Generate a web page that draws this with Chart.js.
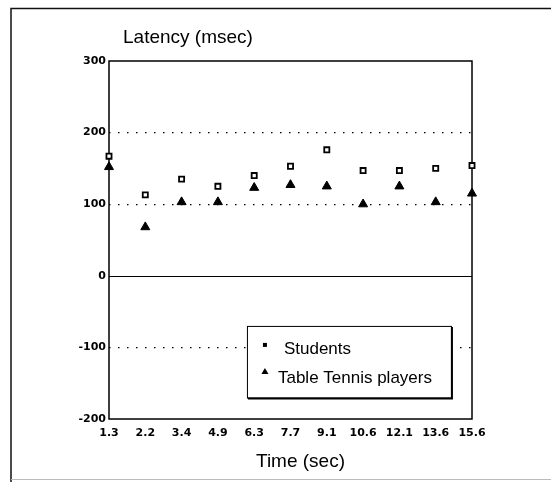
<!DOCTYPE html>
<html>
<head>
<meta charset="utf-8">
<script src="https://cdn.jsdelivr.net/npm/chart.js@4/dist/chart.umd.min.js"></script>
<style>
  html, body { margin: 0; padding: 0; background: #fff; }
  #wrap { width: 551px; height: 482px; position: relative; }
</style>
</head>
<body>
<div id="wrap"><canvas id="chart1" width="551" height="482"></canvas></div>
<script>
const timeLabels = ['1.3', '2.2', '3.4', '4.9', '6.3', '7.7', '9.1', '10.6', '12.1', '13.6', '15.6']
const students = [167, 113, 135, 125, 140, 153, 176, 147, 147, 150, 154]
const tennisPlayers = [152, 68, 103, 103, 123, 127, 125, 100, 125, 103, 115]
const dottedLevels = [200, 100, -100]
const chartTitle = 'Latency (msec)'
const xTitle = 'Time (sec)'
const seriesNames = ['Students', 'Table Tennis players']

const FONT = '"Liberation Sans", Arial, Helvetica, sans-serif'
const TICK_FONT = '"DejaVu Sans", sans-serif'

// frame, zero line, titles and the legend box
const decorations = {
    id: 'decorations',
    beforeDraw(chart) {
        const ctx = chart.ctx
        ctx.save()
        ctx.strokeStyle = '#111'
        ctx.lineWidth = 1.5
        ctx.beginPath()
        ctx.moveTo(11, 482)
        ctx.lineTo(11, 8.5)
        ctx.lineTo(551, 8.5)
        ctx.stroke()
        ctx.strokeStyle = '#bbb'
        ctx.lineWidth = 1
        ctx.beginPath()
        ctx.moveTo(11, 479.5)
        ctx.lineTo(551, 479.5)
        ctx.stroke()
        ctx.restore()
    },
    beforeDatasetsDraw(chart) {
        const ctx = chart.ctx
        const a = chart.chartArea
        const y = chart.scales.y
        ctx.save()
        ctx.strokeStyle = '#000'
        ctx.lineWidth = 1
        const y0 = Math.round(y.getPixelForValue(0)) + 0.5
        ctx.beginPath()
        ctx.moveTo(a.left, y0)
        ctx.lineTo(a.right, y0)
        ctx.stroke()
        ctx.lineWidth = 1.5
        ctx.strokeRect(a.left, a.top, a.right - a.left, a.bottom - a.top)
        ctx.fillStyle = '#000'
        ctx.font = '19px ' + FONT
        ctx.textBaseline = 'alphabetic'
        ctx.textAlign = 'left'
        ctx.fillText(chartTitle, a.left + 14, a.top - 18)
        ctx.textAlign = 'center'
        ctx.textBaseline = 'middle'
        ctx.fillText(xTitle, (a.left + a.right) / 2 + 10, a.bottom + 43)
        ctx.restore()
    },
    afterDraw(chart) {
        const ctx = chart.ctx
        const x = chart.scales.x
        const y = chart.scales.y
        // legend box placed in data space
        const left = x.getPixelForValue(3.8)
        const right = x.getPixelForValue(9.42)
        const top = y.getPixelForValue(-70)
        const bottom = y.getPixelForValue(-170)
        ctx.save()
        ctx.fillStyle = '#fff'
        ctx.fillRect(left, top, right - left, bottom - top)
        ctx.strokeStyle = '#000'
        ctx.lineWidth = 1
        ctx.strokeRect(left + 0.5, top + 0.5, right - left, bottom - top)
        ctx.lineWidth = 2
        ctx.beginPath()
        ctx.moveTo(left + 1, bottom + 1)
        ctx.lineTo(right + 1, bottom + 1)
        ctx.lineTo(right + 1, top + 1)
        ctx.stroke()

        const mx = left + 18
        const r1 = top + 23
        const r2 = top + 52
        ctx.fillStyle = '#000'
        ctx.fillRect(mx - 2, r1 - 6, 4, 4)
        ctx.beginPath()
        ctx.moveTo(mx, r2 - 10)
        ctx.lineTo(mx + 3.5, r2 - 4)
        ctx.lineTo(mx - 3.5, r2 - 4)
        ctx.closePath()
        ctx.fill()

        ctx.font = '17px ' + FONT
        ctx.textBaseline = 'middle'
        ctx.textAlign = 'left'
        ctx.fillText(seriesNames[0], mx + 19, r1)
        ctx.fillText(seriesNames[1], mx + 13, r2)
        ctx.restore()
    }
}

function renderChart() {
    const ctx = document.querySelector('#chart1').getContext('2d')
    const chart1 = new Chart(ctx, {
        type: 'line',
        data: {
            labels: timeLabels,
            datasets: [{
                label: seriesNames[0],
                data: students,
                showLine: false,
                pointStyle: 'rect',
                pointRadius: 3.6,
                borderWidth: 1.8,
                borderColor: '#000',
                backgroundColor: '#fff'
            }, {
                label: seriesNames[1],
                data: tennisPlayers,
                showLine: false,
                pointStyle: 'triangle',
                pointRadius: 5.2,
                borderWidth: 1,
                borderColor: '#000',
                backgroundColor: '#000'
            }]
        },
        options: {
            responsive: false,
            animation: false,
            layout: {
                padding: { left: 10, top: 61, right: 79, bottom: 0 }
            },
            plugins: {
                legend: { display: false },
                title: { display: false },
                tooltip: { enabled: false }
            },
            scales: {
                x: {
                    type: 'category',
                    offset: false,
                    grid: { display: false, drawTicks: false },
                    border: { display: false },
                    ticks: {
                        color: '#000',
                        font: { family: TICK_FONT, size: 11, weight: 'bold' },
                        padding: 8,
                        maxRotation: 0,
                        autoSkip: false
                    },
                    afterFit: scale => { scale.height = 63 }
                },
                y: {
                    min: -200,
                    max: 300,
                    grid: {
                        drawTicks: false,
                        lineWidth: 1.3,
                        color: c => dottedLevels.includes(c.tick.value) ? '#000' : 'rgba(0,0,0,0)'
                    },
                    border: { display: false, dash: [1.5, 7.5] },
                    ticks: {
                        stepSize: 100,
                        color: '#000',
                        font: { family: TICK_FONT, size: 11, weight: 'bold' },
                        padding: 3
                    },
                    afterFit: scale => { scale.width = 99 }
                }
            }
        },
        plugins: [decorations]
    })
}

renderChart()
</script>
</body>
</html>
